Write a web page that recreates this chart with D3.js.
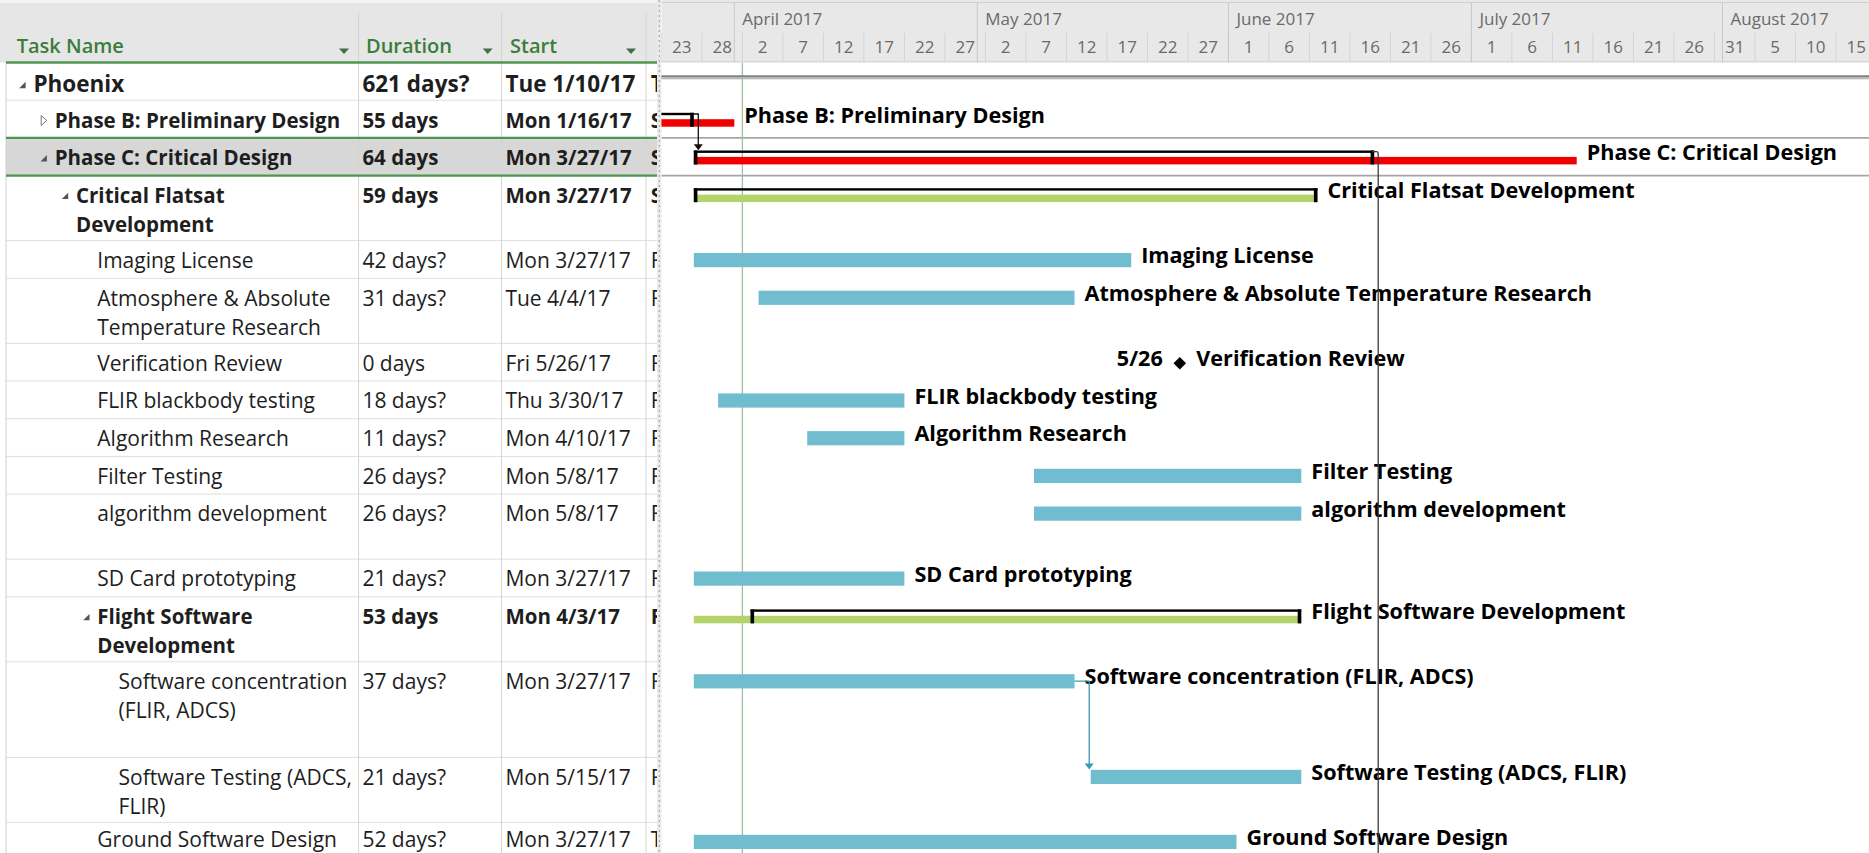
<!DOCTYPE html>
<html><head><meta charset="utf-8">
<script src="https://cdn.jsdelivr.net/npm/d3@7"></script>
<style>
body{margin:0;background:#fff;overflow:hidden}
svg{display:block}
</style>
</head><body>
<svg id="c" width="1869" height="853" font-family="'Open Sans', 'Noto Sans', sans-serif"></svg>
<script>
// ---------------- data ----------------
const taskNames = ["Phoenix","Phase B: Preliminary Design","Phase C: Critical Design","Critical Flatsat|Development",
  "Imaging License","Atmosphere & Absolute|Temperature Research","Verification Review","FLIR blackbody testing",
  "Algorithm Research","Filter Testing","algorithm development","SD Card prototyping","Flight Software|Development",
  "Software concentration|(FLIR, ADCS)","Software Testing (ADCS,|FLIR)","Ground Software Design"];
const durations = ["621 days?","55 days","64 days","59 days","42 days?","31 days?","0 days","18 days?","11 days?",
  "26 days?","26 days?","21 days?","53 days","37 days?","21 days?","52 days?"];
const startLabels = ["Tue 1/10/17","Mon 1/16/17","Mon 3/27/17","Mon 3/27/17","Mon 3/27/17","Tue 4/4/17","Fri 5/26/17",
  "Thu 3/30/17","Mon 4/10/17","Mon 5/8/17","Mon 5/8/17","Mon 3/27/17","Mon 4/3/17","Mon 3/27/17","Mon 5/15/17","Mon 3/27/17"];
const finishInitials = ["T","S","S","S","F","F","F","F","F","F","F","F","F","F","F","T"];
const outlineLevel = [0,1,1,2,3,3,3,3,3,3,3,3,3,4,4,3];
const expander = ["open","closed","open","open","","","","","","","","","open","","",""];
const boldRow = [1,1,1,1,0,0,0,0,0,0,0,0,1,0,0,0];
const rowLines = [1,1,1,2,1,2,1,1,1,1,2,1,2,3,2,1];
const barType = ["project","critical","critical","summary","task","task","milestone","task","task","task","task","task","summary","task","task","task"];
const barStart = ["2017-01-10","2017-01-16","2017-03-27","2017-03-27","2017-03-27","2017-04-04","2017-05-26","2017-03-30",
  "2017-04-10","2017-05-08","2017-05-08","2017-03-27","2017-03-27","2017-03-27","2017-05-15","2017-03-27"];
const barEnd = ["2019-05-27","2017-04-01","2017-07-14","2017-06-12","2017-05-20","2017-05-13","2017-05-26","2017-04-22",
  "2017-04-22","2017-06-10","2017-06-10","2017-04-22","2017-06-10","2017-05-13","2017-06-10","2017-06-02"];
const bracketStart = [null,"2017-01-16","2017-03-27","2017-03-27",null,null,null,null,null,null,null,null,"2017-04-03",null,null,null];
const bracketEnd   = [null,"2017-03-27","2017-06-19","2017-06-12",null,null,null,null,null,null,null,null,"2017-06-10",null,null,null];
const milestoneLabel = ["","","","","","","5/26","","","","","","","","",""];
const linkFrom = [1, 13, 2];
const linkTo   = [2, 14, -1];   // -1 : successor below the visible rows
const statusDate = "2017-04-02";
const monthTicks  = ["2017-04-01","2017-05-01","2017-06-01","2017-07-01","2017-08-01"];
const monthLabels = ["April 2017","May 2017","June 2017","July 2017","August 2017"];
const dayTicks = ["2017-03-23","2017-03-28","2017-04-02","2017-04-07","2017-04-12","2017-04-17","2017-04-22","2017-04-27",
  "2017-05-02","2017-05-07","2017-05-12","2017-05-17","2017-05-22","2017-05-27","2017-06-01","2017-06-06","2017-06-11",
  "2017-06-16","2017-06-21","2017-06-26","2017-07-01","2017-07-06","2017-07-11","2017-07-16","2017-07-21","2017-07-26",
  "2017-07-31","2017-08-05","2017-08-10","2017-08-15"];
const colHeaders = ["Task Name","Duration","Start"];

// ---------------- layout ----------------
const W = 1869, H = 853;
const parse = d3.utcParse("%Y-%m-%d");
const CH_X = 661.4, PX_DAY = 8.1;
const x = d3.scaleUtc().domain([parse("2017-03-23"), parse("2017-08-20")]).range([CH_X, CH_X + 150 * PX_DAY]);
const HEAD_H = 62.5;
const heightFor = d3.scaleOrdinal().domain([1,2,3]).range([37.7, 65, 95.6]);
const heights = rowLines.map(n => heightFor(n));
const tops = [HEAD_H, ...Array.from(d3.cumsum(heights), v => HEAD_H + v)];
const colX = [6, 358.6, 501.5, 646, 657];
const BLUE = "#6fbdcf", GREEN = "#b3d36b", RED = "#f00000", TEAL = "#3a9cb3";

const svg = d3.select("#c");
const defs = svg.append("defs");
function clip(id, x0, y0, w, h) { defs.append("clipPath").attr("id", id).append("rect").attr("x", x0).attr("y", y0).attr("width", w).attr("height", h); }
clip("cName", 0, 0, colX[1] - 1, H);
clip("cDur", colX[1], 0, colX[2] - colX[1] - 1, H);
clip("cStart", colX[2], 0, colX[3] - colX[2] - 1, H);
clip("cFin", colX[3], 0, colX[4] - colX[3], H);
clip("cChart", CH_X, HEAD_H, W - CH_X, H - HEAD_H);
clip("cHead", CH_X, 0, W - CH_X, HEAD_H);

svg.append("rect").attr("width", W).attr("height", H).attr("fill", "#fff");

// ---------------- table ----------------
const gT = svg.append("g");
gT.append("rect").attr("x", 0).attr("y", 0).attr("width", colX[4]).attr("height", HEAD_H).attr("fill", "#e6e6e6");
gT.append("rect").attr("x", 0).attr("y", 0).attr("width", colX[4]).attr("height", 3).attr("fill", "#f4f4f4");
gT.append("rect").attr("x", colX[0]).attr("y", tops[2] + 1.2).attr("width", colX[4] - colX[0]).attr("height", heights[2] - 1.2).attr("fill", "#d7d7d7");
gT.selectAll("line.row").data(tops.slice(1)).join("line")
  .attr("x1", colX[0]).attr("x2", colX[4]).attr("y1", d => d).attr("y2", d => d)
  .attr("stroke", "#dedede").attr("stroke-width", 1);
gT.selectAll("line.col").data(colX.slice(1, 4)).join("line")
  .attr("x1", d => d).attr("x2", d => d).attr("y1", 13).attr("y2", H)
  .attr("stroke", "#d4d4d4").attr("stroke-width", 1);
gT.append("line").attr("x1", colX[0]).attr("x2", colX[0]).attr("y1", HEAD_H).attr("y2", H).attr("stroke", "#d0d0d0");
[HEAD_H, tops[2], tops[3]].forEach(y => {
  gT.append("line").attr("x1", colX[0]).attr("x2", colX[4]).attr("y1", y).attr("y2", y)
    .attr("stroke", "#4f944f").attr("stroke-width", 2.4);
});
const headX = [16.7, 366, 510];
const arrowX = [344, 487.7, 631];
colHeaders.forEach((t, i) => {
  gT.append("text").attr("x", headX[i]).attr("y", 53.3).attr("font-size", 20).attr("font-weight", 600)
    .attr("fill", "#3b7d3b").text(t);
  const cx = arrowX[i];
  gT.append("path").attr("d", `M${cx - 5},48.5 L${cx + 5},48.5 L${cx},54 Z`).attr("fill", "#4a6a4a");
});
const gName = gT.append("g").attr("clip-path", "url(#cName)");
const gDur = gT.append("g").attr("clip-path", "url(#cDur)");
const gStart = gT.append("g").attr("clip-path", "url(#cStart)");
const gFin = gT.append("g").attr("clip-path", "url(#cFin)");
taskNames.forEach((name, i) => {
  const top = tops[i];
  const fs = i === 0 ? 22.5 : (boldRow[i] ? 20.5 : 21);
  const fw = boldRow[i] ? 700 : 400;
  const base = Math.min(top + (i === 0 ? 29.5 : 27.3), H - 6.5);
  const tx = 33.4 + 21.3 * outlineLevel[i];
  name.split("|").forEach((ln, k) => {
    gName.append("text").attr("x", tx).attr("y", base + 29.3 * k).attr("font-size", fs)
      .attr("font-weight", fw).attr("fill", "#1e1e1e").text(ln);
  });
  const ex = tx - 11, ey = base - 7;
  if (expander[i] === "open") {
    gName.append("path").attr("d", `M${ex + 3.2},${ey - 3.2} L${ex + 3.2},${ey + 3.2} L${ex - 3.2},${ey + 3.2} Z`).attr("fill", "#555");
  } else if (expander[i] === "closed") {
    gName.append("path").attr("d", `M${ex - 2.5},${ey - 5} L${ex + 3},${ey} L${ex - 2.5},${ey + 5} Z`)
      .attr("fill", "none").attr("stroke", "#777").attr("stroke-width", 1);
  }
  gDur.append("text").attr("x", 362.4).attr("y", base).attr("font-size", fs).attr("font-weight", fw).attr("fill", "#1e1e1e").text(durations[i]);
  gStart.append("text").attr("x", 505.4).attr("y", base).attr("font-size", fs).attr("font-weight", fw).attr("fill", "#1e1e1e").text(startLabels[i]);
  gFin.append("text").attr("x", 650.8).attr("y", base).attr("font-size", fs).attr("font-weight", fw).attr("fill", "#1e1e1e").text(finishInitials[i]);
});
svg.append("rect").attr("x", colX[4]).attr("y", 0).attr("width", CH_X - colX[4]).attr("height", H).attr("fill", "#ebebeb");
svg.append("line").attr("x1", 659.3).attr("x2", 659.3).attr("y1", 0).attr("y2", H)
  .attr("stroke", "#a9a9a9").attr("stroke-width", 1.2).attr("stroke-dasharray", "2,3");

// ---------------- timescale header ----------------
const gH = svg.append("g").attr("clip-path", "url(#cHead)");
gH.append("rect").attr("x", CH_X).attr("y", 0).attr("width", W - CH_X).attr("height", HEAD_H).attr("fill", "#e8e8e8");
gH.append("line").attr("x1", CH_X).attr("x2", W).attr("y1", 2.5).attr("y2", 2.5).attr("stroke", "#d0d0d0");
gH.append("line").attr("x1", CH_X).attr("x2", W).attr("y1", HEAD_H - 0.5).attr("y2", HEAD_H - 0.5).attr("stroke", "#c6c6c6");
gH.selectAll("line.day").data(dayTicks).join("line")
  .attr("x1", d => x(parse(d))).attr("x2", d => x(parse(d))).attr("y1", 33).attr("y2", HEAD_H)
  .attr("stroke", "#d3d3d3");
gH.selectAll("line.month").data(monthTicks).join("line")
  .attr("x1", d => x(parse(d))).attr("x2", d => x(parse(d))).attr("y1", 3).attr("y2", HEAD_H)
  .attr("stroke", "#c8c8c8");
const dayFmt = d3.utcFormat("%-d");
gH.selectAll("text.day").data(dayTicks).join("text")
  .attr("x", d => x(parse(d)) + 2.5 * PX_DAY).attr("y", 53.3).attr("text-anchor", "middle")
  .attr("font-size", 17).attr("fill", "#6a6a6a").text(d => dayFmt(parse(d)));
gH.selectAll("text.month").data(monthTicks).join("text")
  .attr("x", d => x(parse(d)) + 8).attr("y", 25).attr("font-size", 17).attr("fill", "#6a6a6a")
  .text((d, i) => monthLabels[i]);

// ---------------- chart body ----------------
const gC = svg.append("g").attr("clip-path", "url(#cChart)");
[tops[2], tops[3]].forEach(y => {
  gC.append("line").attr("x1", CH_X).attr("x2", W).attr("y1", y).attr("y2", y).attr("stroke", "#a6a6a6").attr("stroke-width", 1.6);
});
gC.append("line").attr("x1", x(parse(statusDate))).attr("x2", x(parse(statusDate))).attr("y1", HEAD_H).attr("y2", H)
  .attr("stroke", "#9fc09f").attr("stroke-width", 1.3);

const labelFont = 21.6;
const labelBase = 22.5;
taskNames.forEach((name, i) => {
  const top = tops[i];
  const xs = x(parse(barStart[i])), xe = x(parse(barEnd[i]));
  const label = name.split("|").join(" ");
  let labelX = xe + 10;
  if (barType[i] === "project") {
    gC.append("rect").attr("x", xs).attr("y", top + 12.8).attr("width", xe - xs).attr("height", 1.8).attr("fill", "#7d7d7d");
    gC.append("rect").attr("x", xs).attr("y", top + 14.6).attr("width", xe - xs).attr("height", 2.2).attr("fill", "#b6b6b6");
    return;
  }
  if (barType[i] === "task") {
    gC.append("rect").attr("x", xs).attr("y", top + 12.4).attr("width", xe - xs).attr("height", 14.2).attr("fill", BLUE);
  } else if (barType[i] === "critical" || barType[i] === "summary") {
    gC.append("rect").attr("x", xs).attr("y", top + 19).attr("width", xe - xs).attr("height", 7.5)
      .attr("fill", barType[i] === "critical" ? RED : GREEN);
    if (bracketStart[i]) {
      const bs = x(parse(bracketStart[i])), be = x(parse(bracketEnd[i]));
      gC.append("rect").attr("x", bs).attr("y", top + 12.6).attr("width", be - bs).attr("height", 2.4).attr("fill", "#000");
      gC.append("rect").attr("x", bs).attr("y", top + 12.6).attr("width", 3.6).attr("height", 14).attr("fill", "#000");
      gC.append("rect").attr("x", be - 3.6).attr("y", top + 12.6).attr("width", 3.6).attr("height", 14).attr("fill", "#000");
      labelX = Math.max(xe, be) + 10;
    }
  } else if (barType[i] === "milestone") {
    const cy = top + 20, r = 6.3;
    gC.append("path").attr("d", `M${xs},${cy - r} L${xs + r},${cy} L${xs},${cy + r} L${xs - r},${cy} Z`).attr("fill", "#000");
    gC.append("text").attr("x", xs - 17).attr("y", top + labelBase).attr("text-anchor", "end").attr("font-size", labelFont)
      .attr("font-weight", 700).attr("fill", "#000").text(milestoneLabel[i]);
    labelX = xs + 16.5;
  }
  gC.append("text").attr("x", labelX).attr("y", top + labelBase).attr("font-size", labelFont)
    .attr("font-weight", 700).attr("fill", "#000").text(label);
});

// links
linkFrom.forEach((f, k) => {
  const t = linkTo[k];
  const predEnd = bracketEnd[f] ? x(parse(bracketEnd[f])) : x(parse(barEnd[f]));
  const isSummary = !!bracketEnd[f];
  const color = isSummary ? "#111" : TEAL;
  const y0 = isSummary ? tops[f] + 13.8 : tops[f] + 19.4;
  if (t < 0) {
    const lx = predEnd + 4;
    gC.append("path").attr("d", `M${predEnd - 2},${y0} H${lx - 2} Q${lx},${y0} ${lx},${y0 + 2} V${H}`)
      .attr("fill", "none").attr("stroke", "#3a3a3a").attr("stroke-width", 1.3);
    return;
  }
  const succStart = bracketStart[t] ? x(parse(bracketStart[t])) : x(parse(barStart[t]));
  const lx = Math.max(predEnd + 4.5, succStart - 1.5);
  const tip = tops[t] + (bracketStart[t] ? 12.4 : 12.2);
  gC.append("path").attr("d", `M${predEnd},${y0} H${lx} V${tip - 5}`)
    .attr("fill", "none").attr("stroke", color).attr("stroke-width", 1.3);
  gC.append("path").attr("d", `M${lx - 4.5},${tip - 6} L${lx + 4.5},${tip - 6} L${lx},${tip} Z`).attr("fill", color);
});
</script>
</body></html>
